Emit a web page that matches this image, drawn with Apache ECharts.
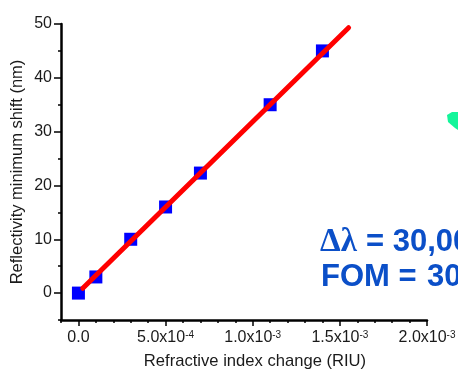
<!DOCTYPE html>
<html><head><meta charset="utf-8">
<style>html,body{margin:0;padding:0;background:#fff}#c{width:458px;height:372px}</style>
<script src="https://cdn.jsdelivr.net/npm/echarts@6/dist/echarts.min.js"></script>
</head><body><div id="c"></div>
<script>
const refractiveIndexChange = [0, 1e-4, 3e-4, 5e-4, 7e-4, 1.1e-3, 1.4e-3];
const reflectivityShift = [0, 3, 10, 16, 22.3, 35, 45];
const fitX = [2.5e-5, 1.55e-3];
const fitY = [0.9, 49.3];
const xMajorTicks = [0, 5e-4, 1e-3, 1.5e-3, 2e-3];
const xTickLabels = ['0.0', '{b|5.0x10}{s|-4}', '{b|1.0x10}{s|-3}', '{b|1.5x10}{s|-3}', '{b|2.0x10}{s|-3}'];
const yMajorTicks = [0, 10, 20, 30, 40, 50];
const font = 'Liberation Sans';
const ink = '#000';
const textInk = '#1a1a1a';
const chart = echarts.init(document.getElementById('c'), null, {renderer: 'canvas'});
const grid = {left: 61, right: 31, top: 24, bottom: 52, outerBoundsMode: 'none', containLabel: false};
chart.setOption({
  animation: false,
  backgroundColor: '#fff',
  grid,
  xAxis: [{
    type: 'value', min: -1e-4, max: 2e-3, position: 'bottom',
    name: 'Refractive index change (RIU)', nameLocation: 'middle', nameGap: 33, nameMoveOverlap: false,
    nameTextStyle: {fontFamily: font, fontSize: 16.6, color: textInk, padding: [0, 0, 0, 22]},
    splitLine: {show: false},
    axisLine: {show: true, onZero: false, lineStyle: {color: ink, width: 2.5}},
    axisTick: {show: true, customValues: xMajorTicks, length: 6, lineStyle: {color: ink, width: 1.5}},
    axisLabel: {
      show: true, customValues: xMajorTicks, margin: 10, hideOverlap: false,
      showMinLabel: true, showMaxLabel: true,
      fontFamily: font, fontSize: 16, color: textInk,
      formatter: (v) => xTickLabels[xMajorTicks.findIndex(t => Math.abs(t - v) < 1e-9)] || '',
      rich: {
        b: {fontFamily: font, fontSize: 16, color: textInk},
        s: {fontFamily: font, fontSize: 10, color: textInk, verticalAlign: 'top', padding: [0, 0, 6, 0]}
      }
    }
  }, {
    type: 'value', min: -1e-4, max: 2e-3, interval: 1e-4, position: 'bottom',
    splitLine: {show: false}, axisLabel: {show: false},
    axisLine: {show: false, onZero: false},
    axisTick: {show: true, length: 3, lineStyle: {color: ink, width: 1.5}}
  }],
  yAxis: [{
    type: 'value', min: -5, max: 50, position: 'left',
    name: 'Reflectivity minimum shift (nm)', nameLocation: 'middle', nameGap: 35, nameMoveOverlap: false,
    nameRotate: 90,
    nameTextStyle: {fontFamily: font, fontSize: 16.5, color: textInk},
    splitLine: {show: false},
    axisLine: {show: true, onZero: false, lineStyle: {color: ink, width: 2.5}},
    axisTick: {show: true, customValues: yMajorTicks, length: 7, lineStyle: {color: ink, width: 1.5}},
    axisLabel: {show: true, customValues: yMajorTicks, margin: 9, fontFamily: font, fontSize: 16, color: textInk,
      formatter: (v) => String(Math.round(v))}
  }, {
    type: 'value', min: -5, max: 50, interval: 5, position: 'left',
    splitLine: {show: false}, axisLabel: {show: false},
    axisLine: {show: false, onZero: false},
    axisTick: {show: true, length: 3, lineStyle: {color: ink, width: 1.5}}
  }],
  series: [{
    type: 'scatter', xAxisIndex: 0, yAxisIndex: 0, symbol: 'rect', symbolSize: 13,
    itemStyle: {color: '#0000ff', opacity: 1},
    data: refractiveIndexChange.map((x, i) => [x, reflectivityShift[i]]),
    z: 3
  }, {
    type: 'line', xAxisIndex: 0, yAxisIndex: 0, showSymbol: false, symbol: 'none',
    lineStyle: {color: '#ff0000', width: 5, cap: 'round'},
    data: fitX.map((x, i) => [x, fitY[i]]),
    z: 4
  }],
  graphic: [
    {type: 'polygon', shape: {points: [[447,115],[452,112],[458,112],[458,130],[455,128],[448,122]]}, style: {fill: '#14f59a'}},
    {type: 'text', left: 320, top: 226, style: {text: 'Δλ', font: 'bold 33px "Liberation Serif"', fill: '#0b4fc8'}},
    {type: 'text', left: 366, top: 227, style: {text: '= 30,000 nm/RIU', font: 'bold 31px "Liberation Sans"', fill: '#0b4fc8'}},
    {type: 'text', left: 321, top: 262, style: {text: 'FOM =', font: 'bold 31px "Liberation Sans"', fill: '#0b4fc8'}},
    {type: 'text', left: 427, top: 262, style: {text: '300', font: 'bold 31px "Liberation Sans"', fill: '#0b4fc8'}}
  ]
});
</script></body></html>
